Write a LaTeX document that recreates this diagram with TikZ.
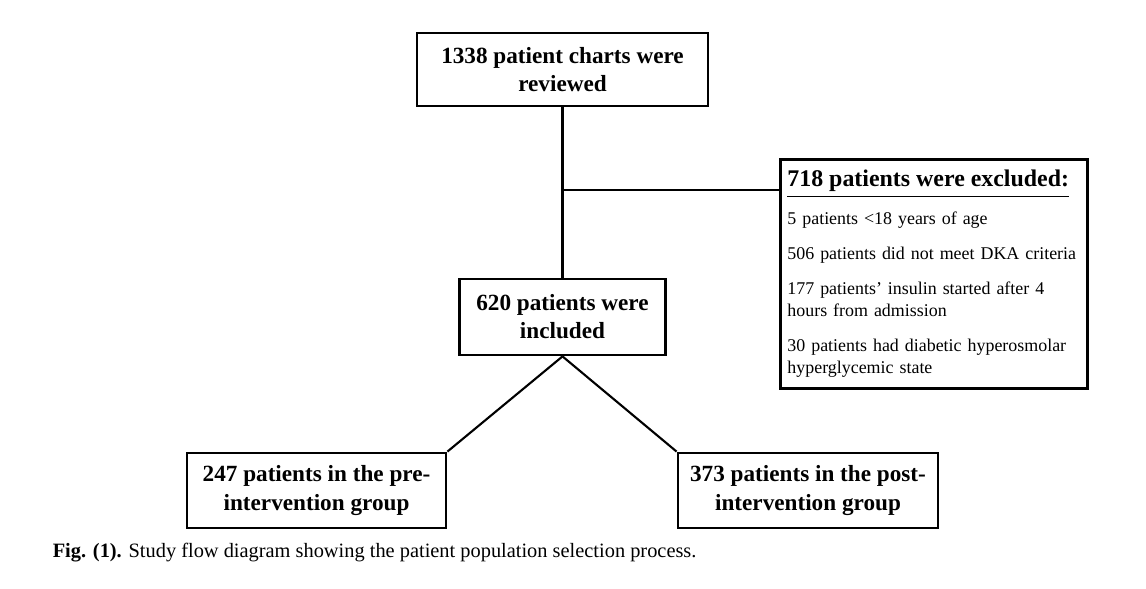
\documentclass[tikz,border=0pt]{standalone}
\usepackage{fontspec}
\setmainfont{Liberation Serif}
\usetikzlibrary{positioning}
\tikzset{
  flowbox/.style={draw,line width=0.8pt,align=center,font=\fontsize{6.6}{8}\selectfont\bfseries,inner sep=0pt},
}
\begin{document}
\begin{tikzpicture}[line width=0.6pt]
  \useasboundingbox (0,0) rectangle (11.46,5.89);
  % Boxes
  \node[flowbox,minimum width=2.91cm,minimum height=0.73cm] (charts) at (5.625,5.195) {1338 patient charts were\\reviewed};
  \node[flowbox,minimum width=2.06cm,minimum height=0.76cm] (incl) at (5.625,2.72) {620 patients were\\included};
  \node[flowbox,minimum width=2.59cm,minimum height=0.75cm] (pre) at (3.165,0.985) {247 patients in the pre-\\intervention group};
  \node[flowbox,minimum width=2.60cm,minimum height=0.75cm] (post) at (8.08,0.985) {373 patients in the post-\\intervention group};
  % Exclusion box
  \node[draw,line width=0.8pt,anchor=north west,minimum width=3.07cm,minimum height=2.29cm,text width=2.93cm,inner xsep=0.06cm,inner ysep=0.08cm,align=left,
        font=\fontsize{5.1}{6.3}\selectfont] (excl) at (7.79,4.31)
    {{\fontsize{6.8}{8}\selectfont\bfseries\underline{718 patients were excluded:}}\\[0.9mm]
     5 patients <18 years of age\\[1.3mm]
     506 patients did not meet DKA criteria\\[1.3mm]
     177 patients' insulin started after 4\\hours from admission\\[1.3mm]
     30 patients had diabetic hyperosmolar\\hyperglycemic state};
  % Connectors
  \draw (charts.south) -- (incl.north);
  \coordinate (branch) at (charts.south |- 0,3.99);
  \draw (branch) -- (branch -| excl.west);
  \draw (incl.south) -- (pre.north east);
  \draw (incl.south) -- (post.north west);
  % Caption
  \node[anchor=west,font=\fontsize{5.8}{7}\selectfont] (cap) at (0.40,0.36) {\textbf{Fig. (1).} Study flow diagram showing the patient population selection process.};
\end{tikzpicture}
\end{document}
